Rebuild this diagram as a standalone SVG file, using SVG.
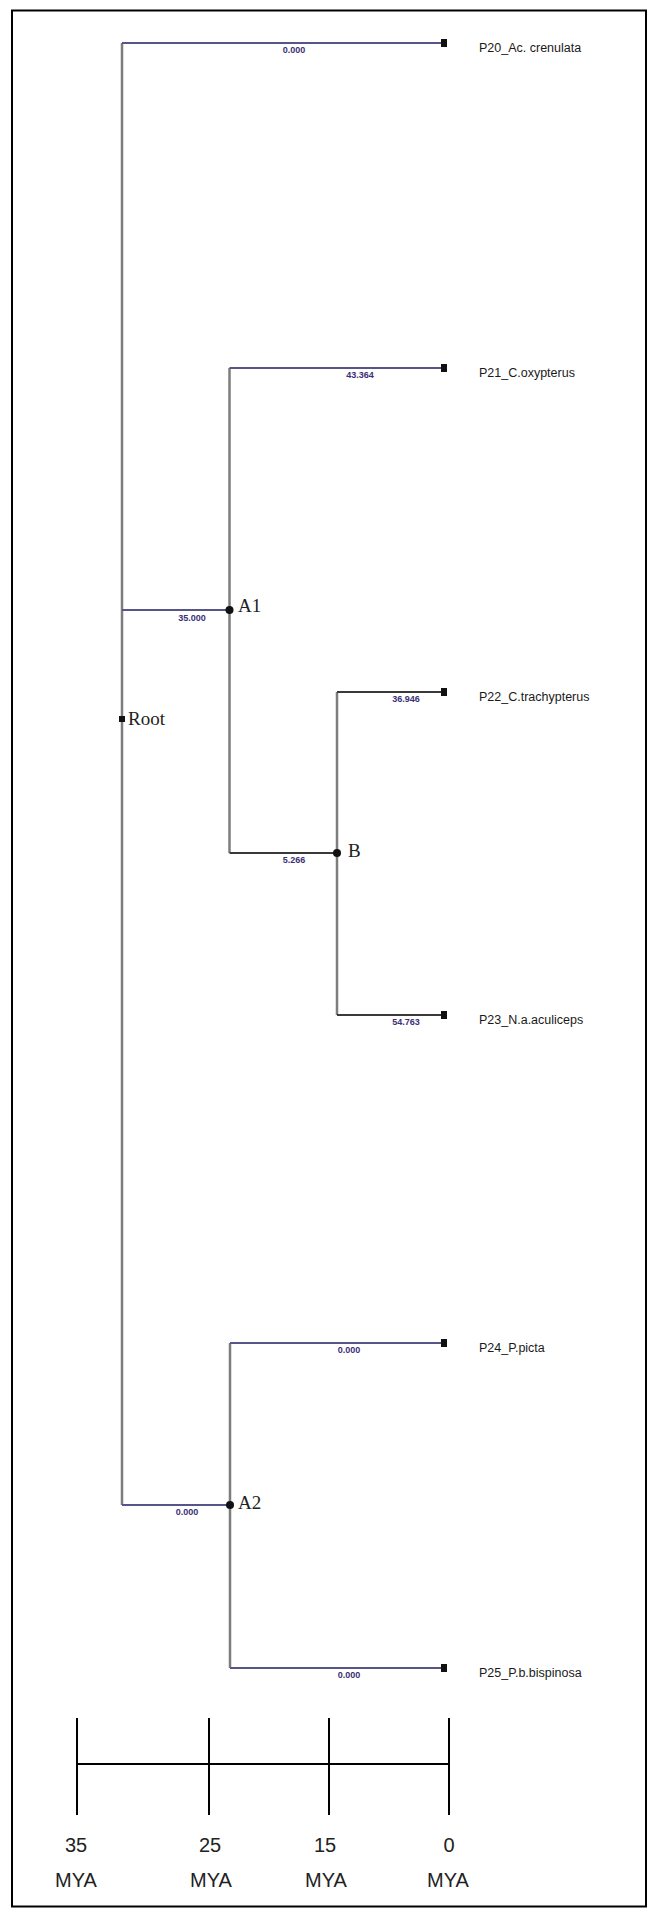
<svg xmlns="http://www.w3.org/2000/svg" width="650" height="1910" viewBox="0 0 650 1910">
<style>
.v{stroke:#7d7d7d;stroke-width:2.5;fill:none}
.hb{stroke:#55558a;stroke-width:2;fill:none}
.hd{stroke:#3a3a3a;stroke-width:2;fill:none}
.tip{fill:#111}
.tl{font-family:"Liberation Sans",Arial,sans-serif;font-size:12.5px;fill:#1a1a1a}
.bl{font-family:"Liberation Sans",Arial,sans-serif;font-size:9px;font-weight:bold;fill:#3a2f78;text-anchor:middle}
.nl{font-family:"Liberation Serif","Times New Roman",serif;font-size:19px;fill:#222}
.ax{stroke:#000;stroke-width:2;fill:none}
.al{font-family:"Liberation Sans",Arial,sans-serif;font-size:20px;fill:#222;text-anchor:middle}
</style>
<rect x="0" y="0" width="650" height="1910" fill="#fff"/>
<rect x="12" y="10.5" width="634" height="1896" fill="none" stroke="#000" stroke-width="2"/>
<g id="connectors">
<path class="v" d="M122,43V1505"/>
<path class="v" d="M229.5,368V853"/>
<path class="v" d="M337,692V1015"/>
<path class="v" d="M230,1343V1668"/>
<path class="hb" d="M122,43H444"/>
<path class="hb" d="M229.5,368H444"/>
<path class="hb" d="M122,610H229.5"/>
<path class="hd" d="M229.5,853H337"/>
<path class="hd" d="M337,692H444"/>
<path class="hd" d="M337,1015H444"/>
<path class="hb" d="M122,1505H230"/>
<path class="hb" d="M230,1343H444"/>
<path class="hb" d="M230,1668H444"/>
<text class="bl" x="294" y="53">0.000</text>
<text class="bl" x="360" y="378">43.364</text>
<text class="bl" x="192" y="621">35.000</text>
<text class="bl" x="406" y="702">36.946</text>
<text class="bl" x="294" y="863">5.266</text>
<text class="bl" x="406" y="1025">54.763</text>
<text class="bl" x="349" y="1353">0.000</text>
<text class="bl" x="187" y="1515">0.000</text>
<text class="bl" x="349" y="1678">0.000</text>
</g>
<g id="root"><rect x="119" y="716" width="6" height="6" fill="#111"/><text class="nl" x="128" y="725">Root</text></g>
<g id="A1"><circle cx="229.5" cy="610" r="4" fill="#111"/><text class="nl" x="238" y="612">A1</text></g>
<g id="B"><circle cx="337" cy="853" r="4" fill="#111"/><text class="nl" x="348" y="857">B</text></g>
<g id="A2"><circle cx="230" cy="1505" r="4" fill="#111"/><text class="nl" x="238" y="1509">A2</text></g>
<g id="P20"><rect class="tip" x="441" y="39" width="6" height="8"/><text class="tl" x="479" y="52">P20_Ac. crenulata</text></g>
<g id="P21"><rect class="tip" x="441" y="364" width="6" height="8"/><text class="tl" x="479" y="377">P21_C.oxypterus</text></g>
<g id="P22"><rect class="tip" x="441" y="688" width="6" height="8"/><text class="tl" x="479" y="701">P22_C.trachypterus</text></g>
<g id="P23"><rect class="tip" x="441" y="1011" width="6" height="8"/><text class="tl" x="479" y="1024">P23_N.a.aculiceps</text></g>
<g id="P24"><rect class="tip" x="441" y="1339" width="6" height="8"/><text class="tl" x="479" y="1352">P24_P.picta</text></g>
<g id="P25"><rect class="tip" x="441" y="1664" width="6" height="8"/><text class="tl" x="479" y="1677">P25_P.b.bispinosa</text></g>
<g id="scale">
<path class="ax" d="M77,1764H449M77,1718V1815M209,1718V1815M329,1718V1815M449,1718V1815"/>
<text class="al" x="76" y="1852">35</text><text class="al" x="76" y="1887">MYA</text>
<text class="al" x="210" y="1852">25</text><text class="al" x="211" y="1887">MYA</text>
<text class="al" x="325" y="1852">15</text><text class="al" x="326" y="1887">MYA</text>
<text class="al" x="449" y="1852">0</text><text class="al" x="448" y="1887">MYA</text>
</g>
</svg>
